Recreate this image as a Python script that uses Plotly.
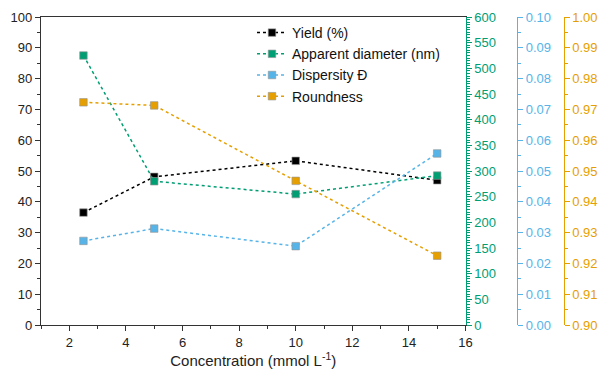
import plotly.graph_objects as go

concentration = [2.5, 5, 10, 15]
yield_pct = [36.5, 48.1, 53.3, 47.0]
diameter_nm = [525, 280, 255, 291]
dispersity = [0.0273, 0.0313, 0.0256, 0.0557]
roundness = [0.9723, 0.9713, 0.9468, 0.9225]

BLACK = "#000000"
GREEN = "#009E73"
BLUE = "#56B4E9"
ORANGE = "#E69F00"
FONT = "Liberation Sans, Arial, sans-serif"

L, R = 41, 0
W = 600 - L - R
xend = (465.5 - L) / W
pos_blue = (517 - L) / W
pos_orange = (563.5 - L) / W

def tr(y, name, color, axis):
    return go.Scatter(
        x=concentration, y=y, name=name, yaxis=axis, mode="lines+markers",
        line=dict(color=color, dash="dot", width=1.5),
        marker=dict(symbol="square", size=7.5, color=color,
                    line=dict(color="rgba(150,150,150,0.8)", width=0.8)),
    )

fig = go.Figure()
fig.add_trace(tr(yield_pct, "Yield (%)", BLACK, "y"))
fig.add_trace(tr(diameter_nm, "Apparent diameter (nm)", GREEN, "y2"))
fig.add_trace(tr(dispersity, "Dispersity Đ", BLUE, "y3"))
fig.add_trace(tr(roundness, "Roundness", ORANGE, "y4"))

def yax(color, rng, dtick, minor_dtick, **kw):
    d = dict(range=rng, dtick=dtick, tick0=rng[0], showgrid=False, zeroline=False,
             automargin=False,
             showline=True, linecolor=color, linewidth=1.3,
             ticks="outside", ticklen=5, tickcolor=color, tickwidth=1.2,
             tickfont=dict(color=color, size=13, family=FONT),
             minor=dict(dtick=minor_dtick, ticks="outside", ticklen=3,
                        tickcolor=color, tickwidth=1))
    d.update(kw)
    return d

fig.update_layout(
    width=600, height=373,
    margin=dict(l=L, r=R, t=17, b=48),
    paper_bgcolor="white", plot_bgcolor="white",
    font=dict(family=FONT, size=13, color="#222"),
    showlegend=True,
    legend=dict(x=(252 - L) / W, y=1.0, xanchor="left", yanchor="top",
                bgcolor="rgba(0,0,0,0)", font=dict(size=14, family=FONT, color="#111"),
                itemwidth=30, tracegroupgap=0),
    xaxis=dict(domain=[0, xend], range=[1, 16], dtick=2, tick0=0, automargin=False,
               showgrid=False, zeroline=False, showline=True, mirror=True,
               linecolor="#333", linewidth=1.3, ticks="outside", ticklen=5,
               tickcolor="#333", tickfont=dict(size=13, color="#222"),
               minor=dict(dtick=1, ticks="outside", ticklen=3, tickcolor="#333"),
               title=dict(text="Concentration (mmol L<sup>-1</sup>)",
                          font=dict(size=15, color="#222"), standoff=6)),
    yaxis=yax("#333", [0, 100], 10, 5, tickfont=dict(size=13, color="#222", family=FONT)),
    yaxis2=yax(GREEN, [0, 600], 50, 5, overlaying="y", side="right", anchor="x"),
    yaxis3=yax(BLUE, [0, 0.1], 0.01, 0.005, overlaying="y", side="right",
               anchor="free", position=pos_blue, tickformat=".2f"),
    yaxis4=yax(ORANGE, [0.9, 1.0], 0.01, 0.005, overlaying="y", side="right",
               anchor="free", position=pos_orange, tickformat=".2f"),
)

fig.write_html("out.html", config={"displayModeBar": False},
               post_script="document.body.style.margin='0px';document.body.style.overflow='hidden';")
